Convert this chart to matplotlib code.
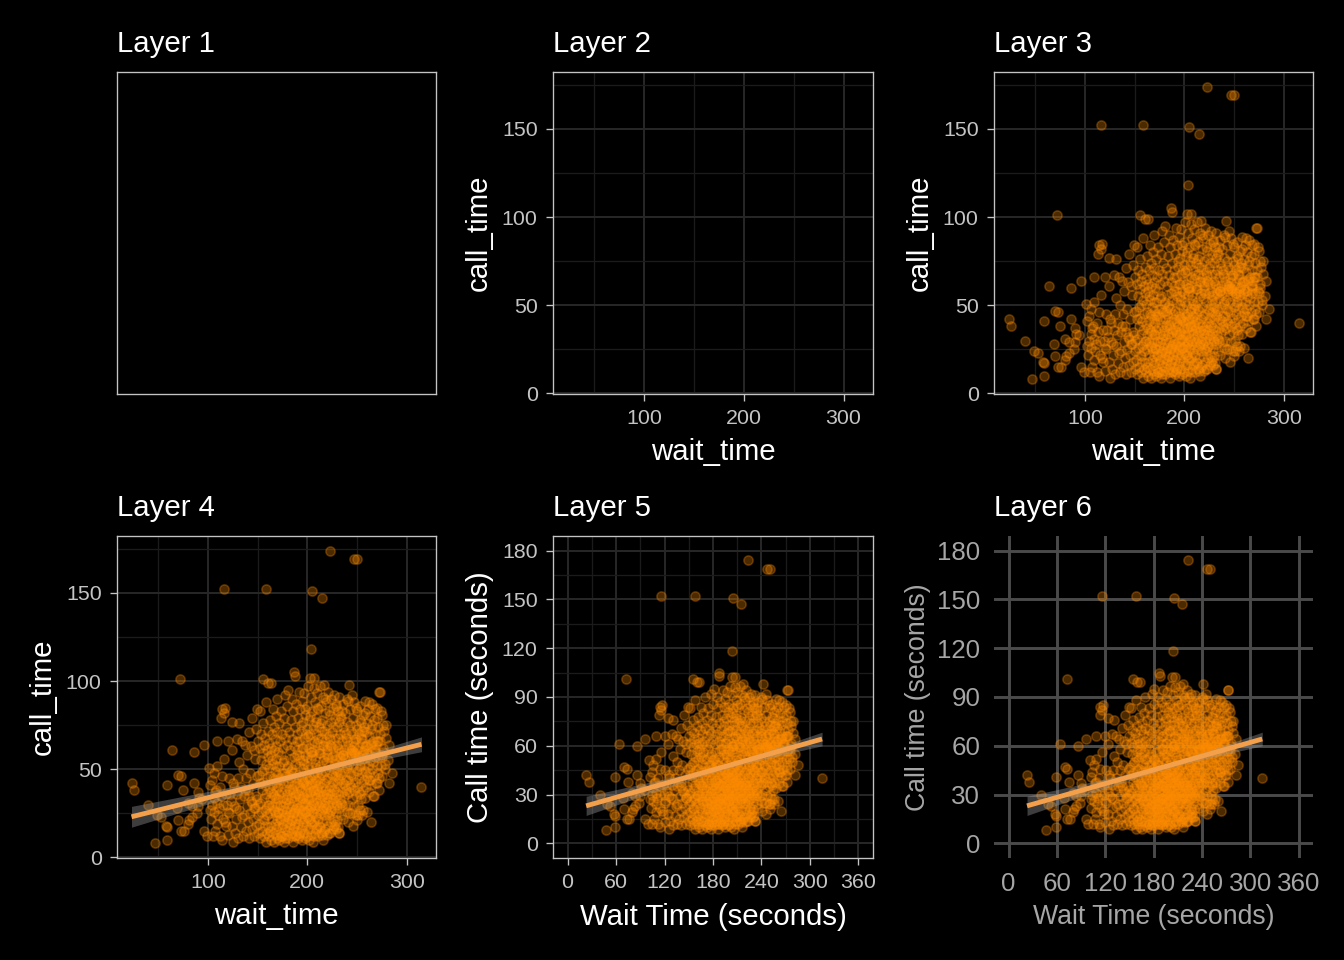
import numpy as np
import matplotlib
matplotlib.use("Agg")
import matplotlib.pyplot as plt
from matplotlib.ticker import MultipleLocator

plt.rcParams['font.family'] = ['Liberation Sans', 'DejaVu Sans']

# ---------------- data ----------------
# sparse left part
wait_a = [23, 26, 40, 47, 49, 53, 58, 59, 59, 59, 64, 69, 70, 70, 72, 73, 73, 75, 76, 80,
          80, 81, 84, 84, 86, 86, 89, 90, 90, 91, 94, 96, 96, 99]
call_a = [42, 38, 30, 8, 24, 23, 18, 17, 10, 41, 61, 28, 47, 21, 101, 15, 46, 38, 15, 31,
          19, 21, 29, 23, 42, 60, 25, 29, 37, 34, 33, 64, 15, 12]
# x 100-150
wait_b = [101, 102, 102, 103, 104, 104, 105, 106, 106, 106,
          107, 107, 108, 109, 109, 109, 109, 110, 111, 112,
          112, 113, 113, 114, 114, 114, 115, 115, 116, 116,
          117, 117, 118, 118, 119, 120, 120, 120, 121, 121,
          122, 123, 124, 124, 124, 125, 125, 126, 126, 127,
          128, 128, 129, 129, 130, 130, 131, 131, 131, 132,
          133, 133, 134, 134, 135, 135, 136, 136, 137, 137,
          138, 138, 139, 139, 140, 140, 141, 141, 142, 142,
          143, 143, 144, 144, 145, 145, 146, 146, 147, 147,
          148, 148, 149, 149, 149, 150, 150, 150]
call_b = [51, 41, 27, 22, 44, 30, 12, 26, 34, 48,
          15, 37, 38, 19, 52, 31, 66, 24, 28, 40,
          12, 79, 35, 10, 46, 84, 30, 22, 56, 82,
          85, 20, 18, 36, 30, 66, 26, 13, 45, 25,
          36, 32, 61, 77, 18, 9, 42, 40, 29, 14,
          28, 22, 67, 36, 45, 11, 54, 76, 27, 33,
          17, 40, 66, 23, 12, 50, 24, 35, 64, 38,
          15, 45, 58, 29, 20, 38, 35, 11, 48, 25,
          63, 32, 16, 31, 42, 22, 28, 12, 56, 28,
          35, 18, 84, 33, 46, 14, 24, 30]
# dense core x 150-240
wait_c1 = [151, 151, 152, 152, 153, 153, 154, 154, 155, 155, 155, 156, 156, 156, 157, 157, 157, 158, 158, 158,
           159, 159, 159, 160, 160, 152, 154, 156, 158, 160,
           161, 161, 161, 162, 162, 162, 163, 163, 163, 164, 164, 164, 165, 165, 165, 166, 166, 166, 167, 167,
           167, 168, 168, 168, 168, 169, 169, 169, 170, 170, 170, 161, 163, 165, 167, 169, 162, 164, 166, 170]
call_c1 = [19, 47, 31, 11, 55, 26, 38, 15, 43, 22, 59, 12, 34, 50, 27, 18, 41, 9, 36, 53,
           24, 45, 14, 30, 57, 42, 49, 21, 28, 17,
           39, 12, 51, 25, 33, 46, 18, 58, 10, 29, 41, 22, 36, 14, 53, 27, 44, 9, 31, 19,
           49, 38, 13, 24, 56, 42, 16, 34, 21, 47, 11, 30, 37, 45, 26, 52, 15, 55, 35, 29]
wait_c2 = [171, 171, 171, 172, 172, 172, 173, 173, 173, 174, 174, 174, 175, 175, 175, 176, 176, 176, 177, 177,
           177, 178, 178, 178, 179, 179, 179, 180, 180, 180, 171, 172, 173, 174, 175, 176, 177, 178, 179, 180,
           172, 174, 176, 178, 180,
           181, 181, 181, 182, 182, 182, 183, 183, 183, 184, 184, 184, 185, 185, 185, 186, 186, 186, 187, 187,
           187, 188, 188, 188, 189, 189, 189, 190, 190, 190, 181, 182, 183, 184, 185, 186, 187, 188, 189, 190,
           181, 183, 185, 187, 189, 182, 184, 186, 188, 190]
call_c2 = [18, 40, 33, 25, 52, 10, 45, 30, 14, 37, 21, 58, 27, 48, 12, 34, 19, 42, 23, 55,
           9, 39, 16, 31, 46, 26, 13, 36, 20, 51, 26, 36, 22, 44, 17, 29, 48, 11, 33, 28,
           44, 12, 54, 24, 15,
           42, 23, 11, 31, 47, 17, 38, 26, 56, 14, 34, 44, 21, 29, 50, 9, 37, 25, 41, 18,
           32, 53, 12, 27, 45, 22, 36, 15, 30, 58, 33, 24, 19, 49, 39, 16, 26, 35, 13, 42,
           52, 45, 12, 57, 28, 39, 21, 48, 19, 24]
wait_c3 = [191, 191, 191, 192, 192, 192, 193, 193, 193, 194, 194, 194, 195, 195, 195, 196, 196, 196, 197, 197,
           197, 198, 198, 198, 199, 199, 199, 200, 200, 200, 191, 192, 193, 194, 195, 196, 197, 198, 199, 200,
           191, 193, 195, 197, 199, 192, 194, 196, 198, 200,
           201, 201, 201, 202, 202, 202, 203, 203, 203, 204, 204, 204, 205, 205, 205, 206, 206, 206, 207, 207,
           207, 208, 208, 208, 209, 209, 209, 210, 210, 210, 201, 202, 203, 204, 205, 206, 207, 208, 209, 210,
           201, 203, 205, 207, 209, 202, 204, 206, 208, 210]
call_c3 = [36, 19, 47, 27, 12, 41, 33, 22, 55, 16, 38, 29, 44, 10, 25, 35, 50, 20, 31, 14,
           43, 26, 39, 58, 18, 33, 48, 23, 12, 37, 28, 52, 14, 46, 34, 27, 22, 11, 41, 30,
           11, 40, 17, 53, 26, 35, 23, 42, 31, 45,
           27, 40, 16, 33, 10, 50, 22, 37, 45, 29, 13, 56, 35, 19, 42, 25, 31, 9, 48, 20,
           38, 14, 28, 53, 34, 23, 44, 17, 31, 39, 34, 22, 28, 41, 26, 47, 12, 36, 16, 25,
           52, 16, 58, 30, 51, 44, 20, 38, 42, 48]
wait_c4 = [211, 211, 211, 212, 212, 212, 213, 213, 213, 214, 214, 214, 215, 215, 215, 216, 216, 216, 217, 217,
           217, 218, 218, 218, 219, 219, 219, 220, 220, 220, 211, 212, 213, 214, 215, 216, 217, 218, 219, 220,
           211, 213, 215, 217, 219,
           221, 221, 221, 222, 222, 222, 223, 223, 223, 224, 224, 224, 225, 225, 225, 226, 226, 226, 227, 227,
           227, 228, 228, 228, 229, 229, 229, 230, 230, 230, 221, 222, 223, 224, 225, 226, 227, 228, 229, 230,
           231, 231, 231, 232, 232, 232, 233, 233, 233, 234, 234, 235, 235, 235, 236, 236, 237, 237, 238, 238,
           239, 239, 240, 240, 231, 233, 234, 236, 238, 240]
call_c4 = [22, 36, 12, 29, 45, 18, 33, 52, 25, 40, 14, 31, 27, 47, 20, 36, 10, 55, 24, 42,
           30, 16, 49, 38, 28, 21, 44, 34, 13, 58, 41, 37, 17, 48, 35, 28, 15, 31, 54, 25,
           50, 42, 13, 57, 36,
           30, 45, 18, 38, 24, 52, 33, 14, 41, 27, 48, 20, 36, 57, 31, 22, 43, 16, 39, 28,
           50, 34, 19, 46, 25, 55, 37, 42, 30, 21, 36, 14, 26, 40, 47, 33, 18, 53, 31, 49,
           36, 17, 52, 28, 44, 14, 40, 33, 57, 24, 47, 37, 30, 54, 42, 22, 49, 35, 29, 56,
           44, 38, 51, 26, 45, 48, 31, 58, 41, 36]
# upper band (call 55-105)
wait_d = [141, 144, 146, 148, 150, 152, 152, 153, 155, 155, 156, 157, 158, 159, 160, 160, 161, 162, 163, 163,
          164, 165, 166, 166, 167, 168, 169, 170, 170, 171, 172, 173, 174, 175, 176, 177, 178, 178, 179, 180,
          180, 181, 182, 183, 184, 185, 185, 186, 187, 187, 188, 188, 189, 190, 190, 191, 192, 192, 193, 194,
          195, 195, 196, 197, 197, 198, 199, 200, 200, 201, 202, 202, 203, 203, 204, 205, 205, 206, 207, 207,
          208, 209, 209, 210, 210, 211, 212, 212, 213, 214, 214, 215, 216, 216, 217, 218, 218, 219, 220, 220,
          221, 222, 222, 223, 224, 224, 225, 226, 226, 227, 228, 228, 229, 230, 230, 231, 232, 232, 233, 234,
          235, 236, 236, 237, 238, 239, 240, 240, 241, 242, 243, 244, 245, 246, 247, 248, 249, 250, 251, 252,
          253, 254, 255, 256, 257, 258, 259, 260, 261, 262, 263, 264, 265, 266, 267, 268, 270, 271, 272, 273,
          275, 276, 279, 279, 282]
call_d = [71, 79, 61, 73, 66, 62, 83, 70, 76, 101, 64, 68, 88, 61, 72, 99, 65, 78, 99, 62,
          70, 84, 61, 74, 67, 80, 63, 71, 90, 60, 76, 66, 83, 70, 62, 79, 92, 68, 74, 64,
          86, 95, 71, 61, 78, 90, 67, 83, 105, 63, 74, 103, 87, 70, 61, 79, 94, 66, 84, 72,
          62, 89, 77, 93, 68, 81, 64, 73, 86, 97, 62, 78, 102, 70, 91, 65, 83, 75, 96, 61,
          88, 70, 79, 65, 93, 84, 61, 74, 97, 68, 86, 78, 63, 91, 72, 82, 66, 88, 61, 75,
          94, 69, 83, 64, 77, 90, 71, 85, 62, 92, 68, 79, 87, 64, 74, 83, 91, 61, 70, 79,
          66, 87, 74, 61, 82, 70, 77, 90, 64, 98, 84, 72, 61, 79, 88, 67, 75, 83, 62, 70,
          86, 77, 65, 81, 72, 89, 63, 76, 84, 69, 80, 73, 87, 66, 78, 84, 85, 74, 94, 70,
          81, 75, 68, 75, 64]
wait_d2 = [190, 192, 194, 196, 198, 200, 201, 203, 205, 206, 208, 210, 211, 213, 214, 216, 218, 219, 221, 223,
           224, 226, 227, 229, 231, 232, 234, 235, 237, 238, 240, 241, 243, 244, 246, 247, 249, 250, 252, 253,
           255, 256, 258, 259, 261, 262, 264, 265, 267, 268, 270, 271, 273, 274, 276, 277, 196, 204, 212, 220,
           228, 236, 244, 252, 260, 268, 199, 207, 215, 223, 231, 239, 247, 255, 263, 271, 209, 233, 257, 245]
call_d2 = [66, 58, 75, 62, 84, 57, 69, 80, 60, 73, 56, 85, 67, 59, 76, 64, 90, 70, 57, 81,
           63, 74, 58, 86, 68, 77, 60, 83, 71, 57, 66, 89, 75, 59, 70, 63, 85, 73, 57, 78,
           67, 60, 82, 71, 58, 88, 64, 75, 61, 70, 79, 57, 66, 83, 62, 72, 55, 60, 59, 63,
           56, 58, 61, 55, 64, 60, 70, 66, 72, 67, 62, 68, 59, 72, 58, 66, 77, 80, 74, 92]
# right part x 240-285
wait_e = [241, 241, 242, 242, 243, 243, 244, 244, 245, 245, 246, 246, 247, 247, 248, 248, 249, 249, 250, 250,
          251, 251, 252, 252, 253, 253, 254, 254, 255, 255, 256, 256, 257, 257, 258, 258, 259, 259, 260, 260,
          261, 262, 262, 263, 264, 264, 265, 266, 267, 267, 268, 269, 270, 270, 271, 272, 274, 275, 278, 282,
          251, 246, 250, 229, 232, 241, 255,
          240, 242, 244, 246, 248, 250, 252, 254, 256, 258, 260, 262, 264, 266, 268, 270, 272, 274, 276, 278,
          243, 249, 257, 263, 269, 275, 281, 285, 253, 247]
call_e = [44, 30, 53, 37, 25, 48, 40, 58, 33, 25, 46, 52, 38, 29, 55, 43, 35, 24, 49, 40,
          30, 57, 45, 37, 52, 27, 42, 33, 48, 58, 38, 27, 53, 44, 34, 49, 40, 57, 26, 46,
          52, 37, 44, 55, 20, 41, 50, 35, 35, 46, 57, 42, 42, 52, 48, 38, 58, 46, 53, 42,
          24, 18, 21, 16, 14, 20, 24,
          52, 62, 47, 66, 58, 61, 50, 68, 56, 63, 59, 48, 65, 54, 61, 66, 45, 52, 60, 50,
          41, 67, 61, 44, 64, 57, 55, 48, 36, 60]
# outliers
wait_o = [315, 223, 247, 250, 116, 158, 205, 215, 204, 207, 273, 217]
call_o = [40, 174, 169, 169, 152, 152, 151, 147, 118, 102, 94, 98]

wait_time = np.array(wait_a + wait_b + wait_c1 + wait_c2 + wait_c3 + wait_c4 + wait_d + wait_d2
                     + wait_e + wait_o, float)
call_time = np.array(call_a + call_b + call_c1 + call_c2 + call_c3 + call_c4 + call_d + call_d2
                     + call_e + call_o, float)
n_pts = min(len(wait_time), len(call_time))
wait_time, call_time = wait_time[:n_pts], call_time[:n_pts]

titles = ["Layer 1", "Layer 2", "Layer 3", "Layer 4", "Layer 5", "Layer 6"]
sec_x_breaks = [0, 60, 120, 180, 240, 300, 360]
sec_y_breaks = [0, 30, 60, 90, 120, 150, 180]

POINT_COL = '#FF8C00'
LINE_COL = '#F4A04B'

# ---------------- figure ----------------
W, H = 1344, 960
fig = plt.figure(figsize=(7, 5), dpi=192, facecolor='black')

def rect(x0, y0, x1, y1):
    return [x0 / W, 1 - y1 / H, (x1 - x0) / W, (y1 - y0) / H]

cols = [(117, 436), (553, 873), (994, 1313)]
rows = [(72, 394), (536, 858)]

def dark_panel(ax):
    ax.set_facecolor('black')
    for s in ax.spines.values():
        s.set_color('#c4c4c4')
        s.set_linewidth(0.5)
    ax.tick_params(which='major', direction='out', length=2.75, width=0.5,
                   color='#c4c4c4', labelcolor='#c4c4c4', labelsize=8, pad=3.0)
    ax.tick_params(which='minor', length=0)
    ax.grid(which='major', color='#262626', lw=0.75)
    ax.grid(which='minor', color='#1b1b1b', lw=0.5)
    ax.set_axisbelow(True)

def data_limits(ax):
    xr = wait_time.max() - wait_time.min()
    yr = call_time.max() - call_time.min()
    ax.set_xlim(wait_time.min() - 0.05 * xr, wait_time.max() + 0.05 * xr)
    ax.set_ylim(call_time.min() - 0.05 * yr, call_time.max() + 0.05 * yr)
    ax.xaxis.set_major_locator(MultipleLocator(100))
    ax.xaxis.set_minor_locator(MultipleLocator(50))
    ax.yaxis.set_major_locator(MultipleLocator(50))
    ax.yaxis.set_minor_locator(MultipleLocator(25))

def raw_labels(ax):
    ax.set_xlabel('wait_time', color='white', fontsize=11, labelpad=3.5)
    ax.set_ylabel('call_time', color='white', fontsize=11, labelpad=3.5)

def add_points(ax):
    ax.scatter(wait_time, call_time, s=12, color=POINT_COL, alpha=0.3,
               linewidths=0.6, zorder=2)

def add_smooth(ax):
    slope, intercept = np.polyfit(wait_time, call_time, 1)
    xs = np.linspace(wait_time.min(), wait_time.max(), 80)
    n = len(wait_time)
    resid = call_time - (intercept + slope * wait_time)
    s = np.sqrt((resid ** 2).sum() / (n - 2))
    xbar = wait_time.mean()
    sxx = ((wait_time - xbar) ** 2).sum()
    se = s * np.sqrt(1 / n + (xs - xbar) ** 2 / sxx)
    yfit = intercept + slope * xs
    ax.fill_between(xs, yfit - 1.96 * se, yfit + 1.96 * se, color='#999999',
                    alpha=0.4, lw=0, zorder=3)
    ax.plot(xs, yfit, color=LINE_COL, lw=1.8, zorder=4, solid_capstyle='butt')

def add_title(ax, t):
    ax.set_title(t, loc='left', color='white', fontsize=11, pad=7.5)

axes = []
for r in rows:
    for c in cols:
        axes.append(fig.add_axes(rect(c[0], r[0], c[1], r[1])))

# Layer 1
ax = axes[0]
ax.set_facecolor('black')
for s in ax.spines.values():
    s.set_color('#c4c4c4'); s.set_linewidth(0.5)
ax.set_xticks([]); ax.set_yticks([])
add_title(ax, titles[0])

# Layer 2
ax = axes[1]
dark_panel(ax); data_limits(ax); raw_labels(ax); add_title(ax, titles[1])

# Layer 3
ax = axes[2]
dark_panel(ax); data_limits(ax); raw_labels(ax); add_title(ax, titles[2])
add_points(ax)

# Layer 4
ax = axes[3]
dark_panel(ax); data_limits(ax); raw_labels(ax); add_title(ax, titles[3])
add_points(ax); add_smooth(ax)

# Layer 5
ax = axes[4]
dark_panel(ax); add_title(ax, titles[4])
add_points(ax); add_smooth(ax)
ax.set_xlim(-18, 378); ax.set_ylim(-9, 189)
ax.set_xticks(sec_x_breaks); ax.set_yticks(sec_y_breaks)
ax.xaxis.set_minor_locator(MultipleLocator(30))
ax.yaxis.set_minor_locator(MultipleLocator(15))
ax.set_xlabel('Wait Time (seconds)', color='white', fontsize=11, labelpad=4)
ax.set_ylabel('Call time (seconds)', color='white', fontsize=11, labelpad=3)

# Layer 6
ax = axes[5]
ax.set_facecolor('black')
for s in ax.spines.values():
    s.set_visible(False)
add_points(ax); add_smooth(ax)
ax.set_xlim(-18, 378); ax.set_ylim(-9, 189)
ax.set_xticks(sec_x_breaks); ax.set_yticks(sec_y_breaks)
ax.tick_params(length=0, labelcolor='#a6a6a6', labelsize=9.7, pad=5.2)
ax.grid(which='major', color='#4a4a4a', lw=1.1)
ax.set_axisbelow(True)
ax.set_xlabel('Wait Time (seconds)', color='#a6a6a6', fontsize=10, labelpad=3.2)
ax.set_ylabel('Call time (seconds)', color='#a6a6a6', fontsize=10, labelpad=2.3)
add_title(ax, titles[5])

fig.savefig('out.png', dpi=192, facecolor='black')
